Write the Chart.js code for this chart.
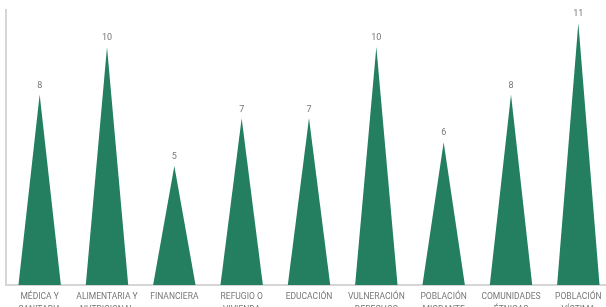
<!DOCTYPE html>
<html>
<head>
<meta charset="utf-8">
<script src="https://cdn.jsdelivr.net/npm/chart.js@4.4.1/dist/chart.umd.min.js"></script>
<style>
  html, body { margin: 0; padding: 0; background: #fff; overflow: hidden; }
  #wrap { width: 612px; height: 307px; position: relative; }
</style>
</head>
<body>
<div id="wrap"><canvas id="c"></canvas></div>
<script>
const categories = [
  ["MÉDICA Y", "SANITARIA"],
  ["ALIMENTARIA Y", "NUTRICIONAL"],
  ["FINANCIERA"],
  ["REFUGIO O", "VIVIENDA"],
  ["EDUCACIÓN"],
  ["VULNERACIÓN", "DERECHOS"],
  ["POBLACIÓN", "MIGRANTE"],
  ["COMUNIDADES", "ÉTNICAS"],
  ["POBLACIÓN", "VÍCTIMA"]
];
const values = [8, 10, 5, 7, 7, 10, 6, 8, 11];

const GREEN = "#237F5F";

const trianglePlugin = {
  id: "triangles",
  afterDatasetsDraw(chart) {
    const ctx = chart.ctx;
    const meta = chart.getDatasetMeta(0);
    ctx.save();
    meta.data.forEach((bar, i) => {
      const p = bar.getProps(["x", "y", "base", "width"], true);
      const half = p.width / 2;
      ctx.beginPath();
      ctx.moveTo(p.x - half, p.base);
      ctx.lineTo(p.x, p.y);
      ctx.lineTo(p.x + half, p.base);
      ctx.closePath();
      ctx.fillStyle = GREEN;
      ctx.fill();
      ctx.fillStyle = "#777";
      ctx.font = "9px Roboto";
      ctx.textAlign = "center";
      ctx.textBaseline = "middle";
      ctx.fillText(String(values[i]), p.x, p.y - 9);
    });
    ctx.restore();
  }
};

new Chart(document.getElementById("c"), {
  type: "bar",
  data: {
    labels: categories,
    datasets: [{
      data: values,
      backgroundColor: "rgba(0,0,0,0)",
      borderWidth: 0,
      categoryPercentage: 1,
      barPercentage: 0.63
    }]
  },
  options: {
    responsive: true,
    maintainAspectRatio: false,
    animation: false,
    layout: { padding: { top: 10, left: 4, right: 0, bottom: 0 } },
    plugins: { legend: { display: false }, tooltip: { enabled: false } },
    scales: {
      x: {
        grid: { display: false, drawTicks: false },
        border: { display: true, color: "#d6d6d6", width: 2 },
        ticks: {
          color: "#777",
          font: { family: "Roboto", size: 8.5, lineHeight: 1.45 },
          padding: 6,
          maxRotation: 0,
          autoSkip: false
        },
        afterFit(scale) { scale.height = 22; }
      },
      y: {
        min: 0,
        max: 11.55,
        grid: { display: false, drawTicks: false },
        border: { display: true, color: "#d6d6d6", width: 2 },
        ticks: { display: false },
        afterFit(scale) { scale.width = 2; }
      }
    }
  },
  plugins: [trianglePlugin]
});
</script>
</body>
</html>
